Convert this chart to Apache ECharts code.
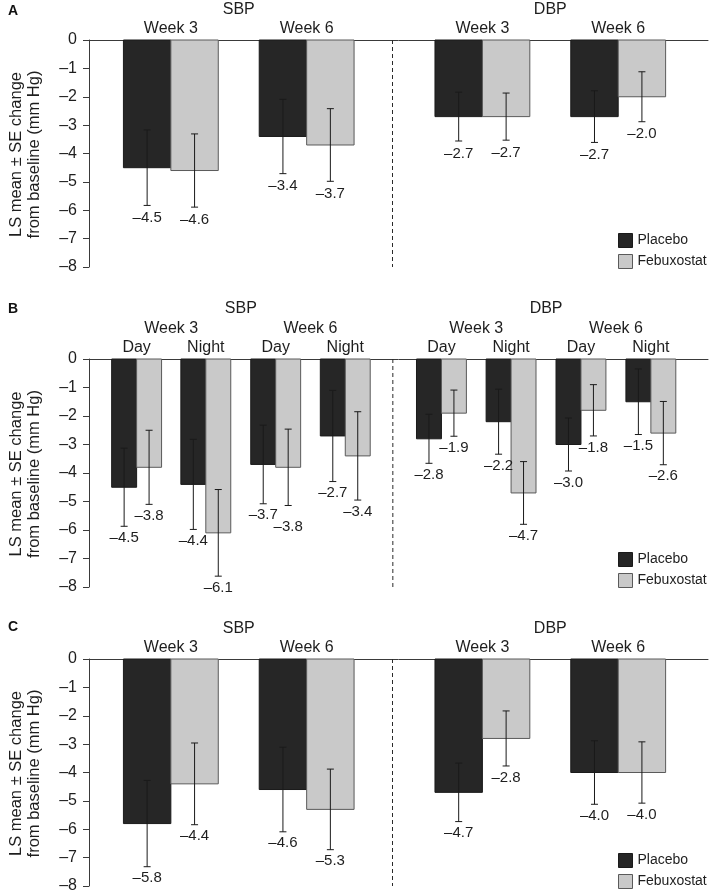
<!DOCTYPE html>
<html>
<head>
<meta charset="utf-8">
<script src="https://cdn.jsdelivr.net/npm/echarts@6/dist/echarts.min.js"></script>
<style>
html,body{margin:0;padding:0;background:#fff;}
#chart{width:709px;height:896px;}
</style>
</head>
<body>
<div id="chart"></div>
<script>
// ---------- data ----------
const measures = ['SBP', 'DBP'];
const weeks = ['Week 3', 'Week 6'];
const periods = ['Day', 'Night'];
const seriesNames = ['Placebo', 'Febuxostat'];
const yMin = -8, yMax = 0, yStep = 1;

// Panel A (office BP): SBP W3, SBP W6, DBP W3, DBP W6
const aPlacebo   = [-4.5, -3.4, -2.7, -2.7];
const aPlaceboSE = [1.33, 1.31, 0.86, 0.91];
const aFebux     = [-4.6, -3.7, -2.7, -2.0];
const aFebuxSE   = [1.29, 1.28, 0.83, 0.88];

// Panel B (ambulatory day/night): SBP W3 D/N, SBP W6 D/N, DBP W3 D/N, DBP W6 D/N
const bPlacebo   = [-4.5, -4.4, -3.7, -2.7, -2.8, -2.2, -3.0, -1.5];
const bPlaceboSE = [1.37, 1.58, 1.38, 1.60, 0.86, 1.14, 0.93, 1.15];
const bFebux     = [-3.8, -6.1, -3.8, -3.4, -1.9, -4.7, -1.8, -2.6];
const bFebuxSE   = [1.30, 1.52, 1.34, 1.55, 0.81, 1.10, 0.90, 1.11];

// Panel C (24-h): SBP W3, SBP W6, DBP W3, DBP W6
const cPlacebo   = [-5.8, -4.6, -4.7, -4.0];
const cPlaceboSE = [1.52, 1.49, 1.03, 1.12];
const cFebux     = [-4.4, -5.3, -2.8, -4.0];
const cFebuxSE   = [1.44, 1.42, 0.97, 1.08];

// ---------- layout (axis units / pixel offsets, not data) ----------
const X_MAX = 13;
const layoutAC = { centers: [1.719, 4.571, 8.262, 11.114], barW: 0.996, divider: 6.374 };
const layoutB  = { centers: [1.0, 2.453, 3.921, 5.382, 7.402, 8.864, 10.332, 11.800], barW: 0.524, divider: 6.381 };
// extra downward shift (px) of individual value labels to avoid overlap: {seriesIndex: {dataIndex: px}}
const labelNudgeB = { 1: { 2: 10 } };

const FONT = '"Liberation Sans", Arial, Helvetica, sans-serif';
const TXT = '#1e1e1e';
const COL = { Placebo: '#262626', Febuxostat: '#c9c9c9' };
const STROKE = { Placebo: '#1a1a1a', Febuxostat: '#5a5a5a' };

function fmt(v) { return (v < 0 ? '\u2013' : '') + Math.abs(v).toFixed(1); }
function tickFmt(v) { return v < 0 ? '\u2013' + Math.abs(v) : String(v); }

function buildHeaders(layout, levels) {
  const out = [];
  levels.forEach(function (lv, level) {
    const labels = lv[0], size = lv[1];
    const n = layout.centers.length / size;
    for (let g = 0; g < n; g++) {
      const xs = layout.centers.slice(g * size, (g + 1) * size);
      const cx = xs.reduce(function (a, b) { return a + b; }, 0) / xs.length;
      out.push({ value: [cx, yMax, level], name: labels[g % labels.length] });
    }
  });
  return out;
}

const panels = [
  { letter: 'A', letterTop: 4, top: 40, height: 227, layout: layoutAC, labelGap: 12.5, nudge: {},
    vals: [aPlacebo, aFebux], ses: [aPlaceboSE, aFebuxSE],
    headers: buildHeaders(layoutAC, [[weeks, 1], [measures, 2]]), legendTop: 233 },
  { letter: 'B', letterTop: 302, top: 359, height: 228, layout: layoutB, labelGap: 11.5, nudge: labelNudgeB,
    vals: [bPlacebo, bFebux], ses: [bPlaceboSE, bFebuxSE],
    headers: buildHeaders(layoutB, [[periods, 1], [weeks, 2], [measures, 4]]), legendTop: 552 },
  { letter: 'C', letterTop: 620, top: 659, height: 227, layout: layoutAC, labelGap: 11.5, nudge: {},
    vals: [cPlacebo, cFebux], ses: [cPlaceboSE, cFebuxSE],
    headers: buildHeaders(layoutAC, [[weeks, 1], [measures, 2]]), legendTop: 853 }
];

const grid = [], xAxis = [], yAxis = [], series = [], legend = [], graphic = [];

panels.forEach(function (p, pi) {
  grid.push({ left: 89, right: 1, top: p.top, height: p.height });
  xAxis.push({
    type: 'value', gridIndex: pi, min: 0, max: X_MAX, position: 'top',
    axisLine: { show: true, onZero: false, lineStyle: { color: '#3a3a3a', width: 1 } },
    axisTick: { show: false }, axisLabel: { show: false }, splitLine: { show: false }
  });
  yAxis.push({
    type: 'value', gridIndex: pi, min: yMin, max: yMax, interval: yStep,
    axisLine: { show: true, lineStyle: { color: '#3a3a3a', width: 1 } },
    axisTick: { show: true, length: 6, lineStyle: { color: '#3a3a3a' } },
    axisLabel: { formatter: tickFmt, fontSize: 16, color: TXT, fontFamily: FONT, margin: 12 },
    splitLine: { show: false }
  });

  const half = p.layout.barW / 2;
  seriesNames.forEach(function (nm, si) {
    const offs = si === 0 ? -half : half;
    const data = p.vals[si].map(function (v, i) {
      return [p.layout.centers[i] + offs, v, p.ses[si][i]];
    });
    series.push({
      type: 'custom', name: nm, xAxisIndex: pi, yAxisIndex: pi, clip: false,
      itemStyle: { color: COL[nm] },
      data: data,
      renderItem: function (params, api) {
        const x = api.value(0), v = api.value(1);
        const a = api.coord([x - half, 0]);
        const b = api.coord([x + half, v]);
        return { type: 'rect',
          shape: { x: a[0], y: a[1], width: b[0] - a[0], height: b[1] - a[1] },
          style: { fill: COL[nm], stroke: STROKE[nm], lineWidth: 1 } };
      }
    });
  });
  // error bars + value labels
  seriesNames.forEach(function (nm, si) {
    const offs = si === 0 ? -half : half;
    const nud = p.nudge[si] || {};
    const data = p.vals[si].map(function (v, i) {
      return [p.layout.centers[i] + offs, v, p.ses[si][i]];
    });
    series.push({
      type: 'custom', name: nm + ' SE', xAxisIndex: pi, yAxisIndex: pi, clip: false,
      data: data, z: 5,
      renderItem: function (params, api) {
        const x = api.value(0), v = api.value(1), se = api.value(2);
        const t = api.coord([x, v + se]);
        const b = api.coord([x, v - se]);
        const cap = 3.5;
        const ls = { stroke: '#1a1a1a', lineWidth: 1 };
        const dy = p.labelGap + (nud[params.dataIndex] || 0);
        return { type: 'group', children: [
          { type: 'line', shape: { x1: t[0], y1: t[1], x2: b[0], y2: b[1] }, style: ls },
          { type: 'line', shape: { x1: t[0] - cap, y1: t[1], x2: t[0] + cap, y2: t[1] }, style: ls },
          { type: 'line', shape: { x1: b[0] - cap, y1: b[1], x2: b[0] + cap, y2: b[1] }, style: ls },
          { type: 'text', x: b[0], y: b[1] + dy,
            style: { text: fmt(v), fill: TXT, font: '15px ' + FONT, textAlign: 'center', textVerticalAlign: 'middle' } }
        ] };
      }
    });
  });
  // divider between SBP and DBP
  series.push({
    type: 'custom', name: 'divider', xAxisIndex: pi, yAxisIndex: pi, clip: false,
    data: [[p.layout.divider]],
    renderItem: function (params, api) {
      const a = api.coord([api.value(0), yMax]);
      const b = api.coord([api.value(0), yMin]);
      return { type: 'line', shape: { x1: a[0], y1: a[1], x2: b[0], y2: b[1] },
        style: { stroke: '#2a2a2a', lineWidth: 1, lineDash: [4, 3] } };
    }
  });
  // headers
  series.push({
    type: 'custom', name: 'headers', xAxisIndex: pi, yAxisIndex: pi, clip: false,
    data: p.headers,
    renderItem: function (params, api) {
      const pt = api.coord([api.value(0), api.value(1)]);
      const level = api.value(2);
      return { type: 'text', x: pt[0], y: pt[1] - 11.5 - 19.3 * level,
        style: { text: p.headers[params.dataIndex].name, fill: TXT, font: '16px ' + FONT,
          textAlign: 'center', textVerticalAlign: 'middle' } };
    }
  });

  legend.push({
    orient: 'vertical', left: 618, top: p.legendTop, padding: 0,
    itemWidth: 14, itemHeight: 14, itemGap: 6, selectedMode: false,
    textStyle: { fontSize: 14, color: TXT, fontFamily: FONT },
    data: seriesNames.map(function (nm) {
      return { name: nm, icon: 'rect', itemStyle: { color: COL[nm], borderColor: STROKE[nm], borderWidth: 1 } };
    })
  });

  graphic.push({ type: 'text', left: 8, top: p.letterTop,
    style: { text: p.letter, font: 'bold 14px ' + FONT, fill: '#111' } });
  graphic.push({ type: 'text', x: 25, y: p.top + p.height / 2 + 1, rotation: Math.PI / 2,
    style: { text: 'LS mean \u00b1 SE change\nfrom baseline (mm Hg)', font: '16.5px ' + FONT, fill: TXT,
      textAlign: 'center', textVerticalAlign: 'middle', lineHeight: 18 } });
});

const chart = echarts.init(document.getElementById('chart'), null, { renderer: 'canvas' });
chart.setOption({
  animation: false,
  backgroundColor: '#ffffff',
  grid: grid, xAxis: xAxis, yAxis: yAxis, series: series, legend: legend, graphic: graphic
});
</script>
</body>
</html>
